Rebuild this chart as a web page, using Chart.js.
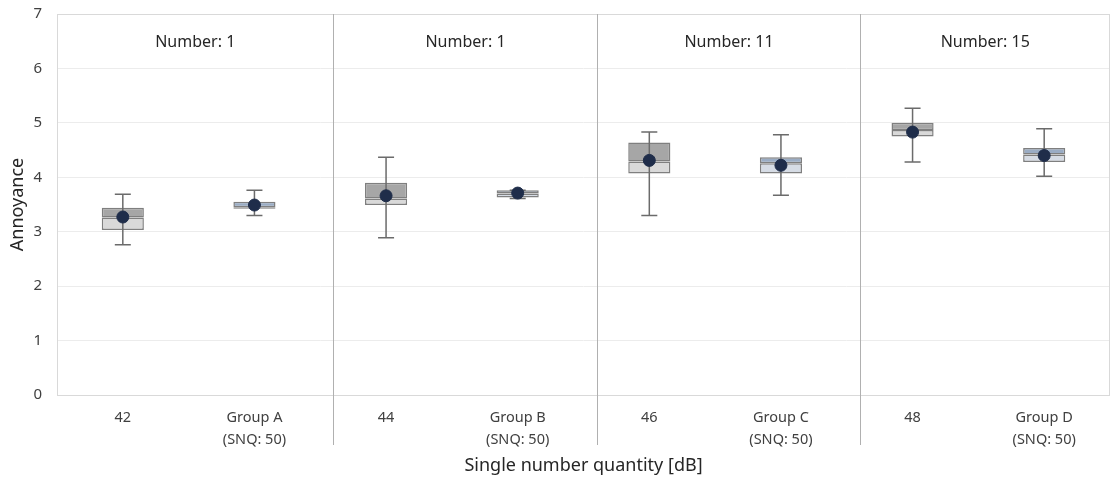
<!DOCTYPE html>
<html>
<head>
<meta charset="utf-8">
<script src="https://cdn.jsdelivr.net/npm/chart.js@4.4.0/dist/chart.umd.min.js"></script>
<style>
  html, body { margin: 0; padding: 0; background: #fff; }
  #wrap { width: 1117px; height: 479px; }
</style>
</head>
<body>
<div id="wrap"><canvas id="chart" width="1117" height="479"></canvas></div>
<script>
// categories (multi-line tick labels)
const categorias = [['42'], ['Group A', '(SNQ: 50)'], ['44'], ['Group B', '(SNQ: 50)'],
                    ['46'], ['Group C', '(SNQ: 50)'], ['48'], ['Group D', '(SNQ: 50)']];
const minimo  = [2.76, 3.30, 2.89, 3.61, 3.30, 3.67, 4.28, 4.02];
const q1      = [3.03, 3.42, 3.49, 3.63, 4.07, 4.07, 4.75, 4.28];
const mediana = [3.26, 3.45, 3.61, 3.70, 4.29, 4.26, 4.87, 4.42];
const q3      = [3.44, 3.55, 3.90, 3.76, 4.64, 4.37, 5.00, 4.54];
const maximo  = [3.69, 3.76, 4.37, 3.76, 4.83, 4.78, 5.27, 4.89];
const media   = [3.27, 3.49, 3.66, 3.71, 4.31, 4.22, 4.83, 4.40];
const titulos = ['Number: 1', 'Number: 1', 'Number: 11', 'Number: 15'];
const divisoes = [1.6, 3.6, 5.6];
const yTicks = [0, 1, 2, 3, 4, 5, 6, 7];

const fonte = '"Noto Sans", "Open Sans", sans-serif';
let corBaixo = categorias.map((c, i) => i % 2 === 0 ? '#d9d9d9' : '#d6dce5');
let corCima = categorias.map((c, i) => i % 2 === 0 ? '#a6a6a6' : '#9aacc4');

const bigodes = {
    id: 'bigodes',
    beforeDatasetDraw(chart, args) {
        if (args.index !== 2) return;
        const ctx = chart.ctx;
        const x = chart.scales.x, y = chart.scales.y;
        ctx.save();
        ctx.strokeStyle = '#6b6b6b';
        ctx.lineWidth = 1.5;
        for (let i = 0; i < categorias.length; i++) {
            const px = x.getPixelForValue(i);
            const top = y.getPixelForValue(maximo[i]);
            const bot = y.getPixelForValue(minimo[i]);
            ctx.beginPath();
            ctx.moveTo(px, top); ctx.lineTo(px, bot);
            ctx.moveTo(px - 8, top); ctx.lineTo(px + 8, top);
            ctx.moveTo(px - 8, bot); ctx.lineTo(px + 8, bot);
            ctx.stroke();
        }
        ctx.restore();
    },
    afterDraw(chart) {
        const ctx = chart.ctx;
        const a = chart.chartArea;
        const x = chart.scales.x;
        ctx.save();
        // borda do grafico
        ctx.strokeStyle = '#d9d9d9';
        ctx.lineWidth = 1;
        ctx.strokeRect(a.left + 0.5, a.top + 0.5, a.right - a.left - 1, a.bottom - a.top);
        // divisorias
        ctx.strokeStyle = '#b0b0b0';
        const limites = [x.getPixelForValue(-0.5)];
        divisoes.forEach(d => {
            const px = Math.round(x.getPixelForValue(d)) + 0.5;
            limites.push(px);
            ctx.beginPath();
            ctx.moveTo(px, a.top);
            ctx.lineTo(px, a.bottom + 50);
            ctx.stroke();
        });
        limites.push(x.getPixelForValue(7.5));
        // titulos dos paineis
        ctx.fillStyle = '#262626';
        ctx.font = '16px ' + fonte;
        ctx.textAlign = 'center';
        ctx.textBaseline = 'middle';
        titulos.forEach((t, i) => {
            ctx.fillText(t, (limites[i] + limites[i + 1]) / 2, a.top + 28);
        });
        ctx.restore();
    }
};

let ctx = document.getElementById('chart').getContext('2d');
let chart = new Chart(ctx, {
    type: 'bar',
    data: {
        labels: categorias,
        datasets: [{
            label: 'Q1-Mediana',
            data: categorias.map((c, i) => [q1[i], mediana[i]]),
            backgroundColor: corBaixo,
            borderColor: '#7f7f7f',
            borderWidth: 1.5,
            borderSkipped: false,
            grouped: false,
            barPercentage: 0.32,
            categoryPercentage: 1,
            order: 2
        }, {
            label: 'Mediana-Q3',
            data: categorias.map((c, i) => [mediana[i], q3[i]]),
            backgroundColor: corCima,
            borderColor: '#7f7f7f',
            borderWidth: 1.5,
            borderSkipped: false,
            grouped: false,
            barPercentage: 0.32,
            categoryPercentage: 1,
            order: 1
        }, {
            type: 'line',
            label: 'Media',
            data: media,
            showLine: false,
            pointRadius: 6,
            pointBackgroundColor: '#1f2d4a',
            pointBorderColor: '#1f2d4a',
            order: 0
        }]
    },
    options: {
        responsive: false,
        animation: false,
        layout: { padding: { top: 0, right: 0, left: 0, bottom: 0 } },
        plugins: {
            legend: { display: false },
            tooltip: { enabled: false }
        },
        scales: {
            x: {
                afterFit: axis => { axis.height = 84; },
                grid: { display: false, drawTicks: false },
                border: { display: false },
                ticks: {
                    color: '#404040',
                    font: { family: fonte, size: 14.5, lineHeight: 1.5 },
                    padding: 12,
                    maxRotation: 0
                },
                title: {
                    display: true,
                    text: 'Single number quantity [dB]',
                    color: '#262626',
                    font: { family: fonte, size: 18 },
                    padding: { top: 0, bottom: 2 }
                }
            },
            y: {
                min: 0,
                max: 7,
                afterFit: axis => {
                    axis.width = 57;
                    axis.paddingTop = 14;
                    axis.paddingBottom = 0;
                },
                afterBuildTicks: axis => { axis.ticks = yTicks.map(v => ({ value: v })); },
                grid: { color: '#ececec', drawTicks: false },
                border: { display: false },
                ticks: {
                    color: '#404040',
                    font: { family: fonte, size: 15 },
                    padding: 15
                },
                title: {
                    display: true,
                    text: 'Annoyance',
                    color: '#262626',
                    font: { family: fonte, size: 18 },
                    padding: { top: 7, bottom: 0 }
                }
            }
        }
    },
    plugins: [bigodes]
});
</script>
</body>
</html>
